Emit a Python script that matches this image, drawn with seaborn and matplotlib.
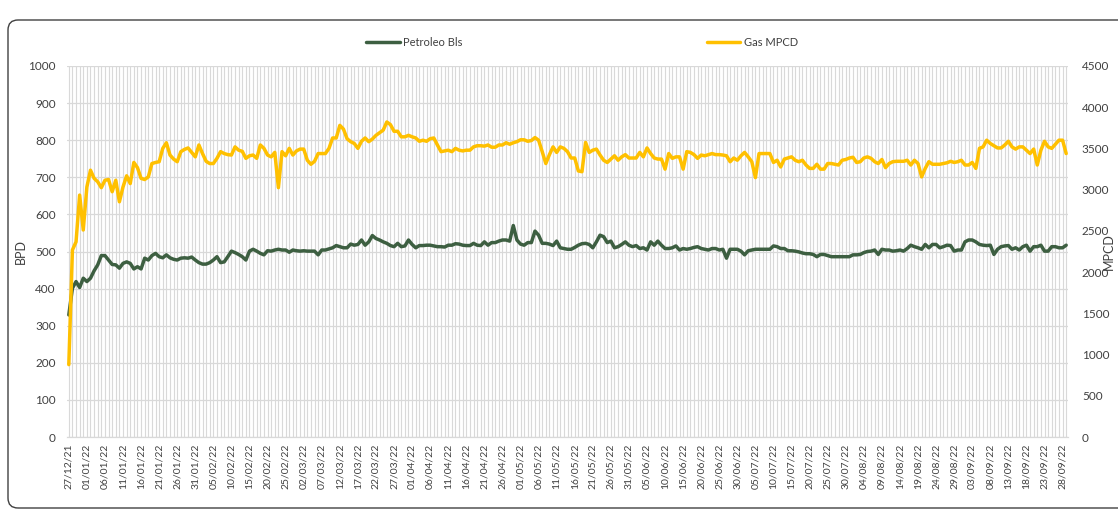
import numpy as np
import pandas as pd
import matplotlib
matplotlib.use("Agg")
import matplotlib.pyplot as plt
import matplotlib.patches as mpatches
from matplotlib.transforms import IdentityTransform
from matplotlib.lines import Line2D
import seaborn as sns

# datos (diarios desde 27/12/21)
fecha_inicio = "2021-12-27"

petroleo_bls = [
    329, 401, 419, 403, 428, 419, 428, 448, 464, 489, 489, 477, 465, 464, 455, 468, 472, 468, 453, 459,
    453, 482, 477, 489, 495, 486, 483, 491, 483, 479, 477, 482, 483, 482, 485, 477, 470, 466, 466, 470,
    477, 486, 470, 472, 486, 501, 497, 492, 486, 477, 501, 506, 501, 495, 491, 502,
    501, 504, 506, 504, 504, 498, 504, 502, 501, 502, 501, 501, 501, 491, 504, 504, 507, 510, 516, 513,
    510, 510, 520, 517, 519, 531, 517, 526, 543, 535, 531, 526, 522, 516, 513, 522, 513, 515, 531, 519,
    510, 516, 516, 517, 517, 515, 513, 513, 512, 517, 517, 521, 520, 517, 516,
    516, 522, 517, 516, 526, 517, 524, 524, 528, 531, 531, 528, 570, 531, 520, 517, 524, 524, 555, 544,
    522, 522, 520, 516, 528, 510, 508, 506, 506, 511, 517, 521, 522, 519, 510, 526, 544, 540, 524, 528,
    510, 513, 519, 526, 517, 513, 516, 508, 510, 504, 526, 517, 528, 517, 508,
    508, 510, 515, 504, 508, 506, 508, 511, 513, 508, 506, 504, 508, 508, 504, 506, 482, 506, 506, 506,
    501, 491, 502, 504, 506, 506, 506, 506, 506, 515, 513, 508, 508, 502, 502, 501, 499, 496, 494, 494,
    492, 486, 492, 492, 489, 486, 486, 486, 486, 486, 486, 491, 491, 492, 497,
    500, 501, 504, 492, 506, 504, 504, 501, 502, 504, 501, 508, 517, 513, 510, 506, 519, 510, 519, 519,
    510, 513, 517, 516, 501, 504, 504, 526, 531, 531, 526, 519, 517, 516, 517, 492, 506, 513, 515, 516,
    506, 510, 504, 513, 517, 501, 513, 513, 517, 501, 501, 513, 513, 510, 510, 517,
]

gas_mpcd = [
    878, 2268, 2367, 2934, 2511, 3033, 3236, 3137, 3096, 3024, 3114, 3123, 2975, 3114, 2853, 3033, 3168, 3074, 3330, 3267,
    3137, 3123, 3155, 3317, 3330, 3339, 3501, 3569, 3420, 3371, 3339, 3461, 3488, 3506, 3452, 3398, 3542, 3438, 3344, 3317,
    3317, 3380, 3461, 3438, 3425, 3420, 3519, 3479, 3465, 3380, 3411, 3420, 3380, 3542, 3501, 3420,
    3398, 3452, 3024, 3461, 3411, 3501, 3420, 3470, 3492, 3492, 3357, 3308, 3344, 3438, 3438, 3438, 3501, 3627, 3627, 3780,
    3735, 3618, 3582, 3560, 3501, 3587, 3627, 3582, 3614, 3659, 3690, 3722, 3821, 3789, 3708, 3708, 3641, 3641, 3659, 3641,
    3627, 3587, 3600, 3587, 3618, 3627, 3542, 3461, 3470, 3479, 3461, 3501, 3479, 3470, 3479,
    3479, 3519, 3533, 3533, 3528, 3542, 3515, 3515, 3542, 3542, 3569, 3551, 3569, 3582, 3605, 3605, 3587, 3596, 3632, 3600,
    3461, 3317, 3425, 3519, 3452, 3519, 3501, 3461, 3384, 3384, 3227, 3218, 3573, 3452, 3479, 3492, 3420, 3357, 3330, 3371,
    3411, 3357, 3398, 3425, 3384, 3384, 3384, 3452, 3398, 3506, 3438, 3384, 3371, 3371, 3249,
    3438, 3380, 3398, 3398, 3249, 3461, 3452, 3425, 3380, 3420, 3411, 3425, 3438, 3425, 3425, 3420, 3411, 3339, 3384, 3357,
    3411, 3452, 3398, 3339, 3146, 3438, 3438, 3438, 3438, 3330, 3357, 3276, 3371, 3384, 3398, 3357, 3339, 3357, 3299, 3258,
    3258, 3308, 3249, 3249, 3317, 3317, 3308, 3299, 3357, 3366, 3384, 3393, 3330, 3339, 3384,
    3398, 3380, 3339, 3317, 3366, 3267, 3317, 3339, 3344, 3344, 3344, 3357, 3299, 3357, 3317, 3155, 3258, 3339, 3308, 3308,
    3308, 3317, 3326, 3344, 3330, 3339, 3357, 3299, 3299, 3330, 3258, 3501, 3519, 3600, 3560, 3533, 3506, 3506, 3542, 3587,
    3519, 3492, 3519, 3519, 3479, 3438, 3492, 3299, 3479, 3587, 3519, 3501, 3551, 3600, 3600, 3438,
]

color_petroleo = "#3d5f41"
color_gas = "#ffc000"
color_grid = "#d9d9d9"
color_texto = "#404040"

fechas = pd.date_range(fecha_inicio, periods=len(petroleo_bls), freq="D")
n = len(fechas)
df = pd.DataFrame({"dia": np.arange(n), "Petroleo Bls": petroleo_bls, "Gas MPCD": gas_mpcd})

sns.set_style("white")
plt.rcParams["font.family"] = ["Lato", "DejaVu Sans"]

fig = plt.figure(figsize=(11.18, 5.12), dpi=100)

# marco redondeado del grafico
marco = mpatches.FancyBboxPatch((8, 4), 1200, 488, boxstyle="round,pad=0,rounding_size=10",
                                transform=IdentityTransform(), facecolor="none",
                                edgecolor="#404040", linewidth=1.0)
fig.add_artist(marco)

ax = fig.add_axes([67 / 1118, 75 / 512, 1001 / 1118, 371 / 512])
ax2 = ax.twinx()

sns.lineplot(data=df, x="dia", y="Petroleo Bls", ax=ax, color=color_petroleo, lw=2.5, legend=False)
sns.lineplot(data=df, x="dia", y="Gas MPCD", ax=ax2, color=color_gas, lw=2.5, legend=False)

ax.set_xlim(-0.5, n - 0.5)
ax.set_ylim(0, 1000)
ax2.set_ylim(0, 4500)
ax.set_yticks(np.arange(0, 1001, 100))
ax2.set_yticks(np.arange(0, 4501, 500))

ticks = np.arange(0, n, 5)
ax.set_xticks(ticks)
ax.set_xticklabels([fechas[i].strftime("%d/%m/%y") for i in ticks], rotation=90, fontsize=7.5, color=color_texto)
ax.set_xticks(np.arange(n), minor=True)

ax.grid(axis="y", color=color_grid, lw=0.9)
ax.grid(axis="x", which="both", color=color_grid, lw=0.8)
ax.set_axisbelow(True)

for a in (ax, ax2):
    for s in ("top", "left", "right"):
        a.spines[s].set_visible(False)
    a.spines["bottom"].set_color(color_grid)
    a.set_xlabel("")

ax.tick_params(axis="x", which="major", length=3, color=color_grid, pad=2)
ax.tick_params(axis="x", which="minor", length=0)
ax.tick_params(axis="y", length=0, pad=8, labelsize=8.5, labelcolor=color_texto)
ax2.tick_params(axis="y", length=0, pad=10, labelsize=8.5, labelcolor=color_texto)

ax.set_ylabel("BPD", fontsize=9, color=color_texto)
ax.yaxis.set_label_coords(-0.040, 0.5)
ax2.set_ylabel("MPCD", fontsize=9, color=color_texto, rotation=90)
ax2.yaxis.set_label_coords(1.035, 0.5)

handles = [Line2D([], [], color=color_petroleo, lw=2.5), Line2D([], [], color=color_gas, lw=2.5)]
fig.legend(handles, ["Petroleo Bls", "Gas MPCD"], loc="center", bbox_to_anchor=(582 / 1118, 1 - 42 / 512),
           ncol=2, frameon=False, fontsize=8, handlelength=3, handletextpad=0.3, columnspacing=22,
           labelcolor=color_texto)

fig.savefig("out.png", dpi=100)
